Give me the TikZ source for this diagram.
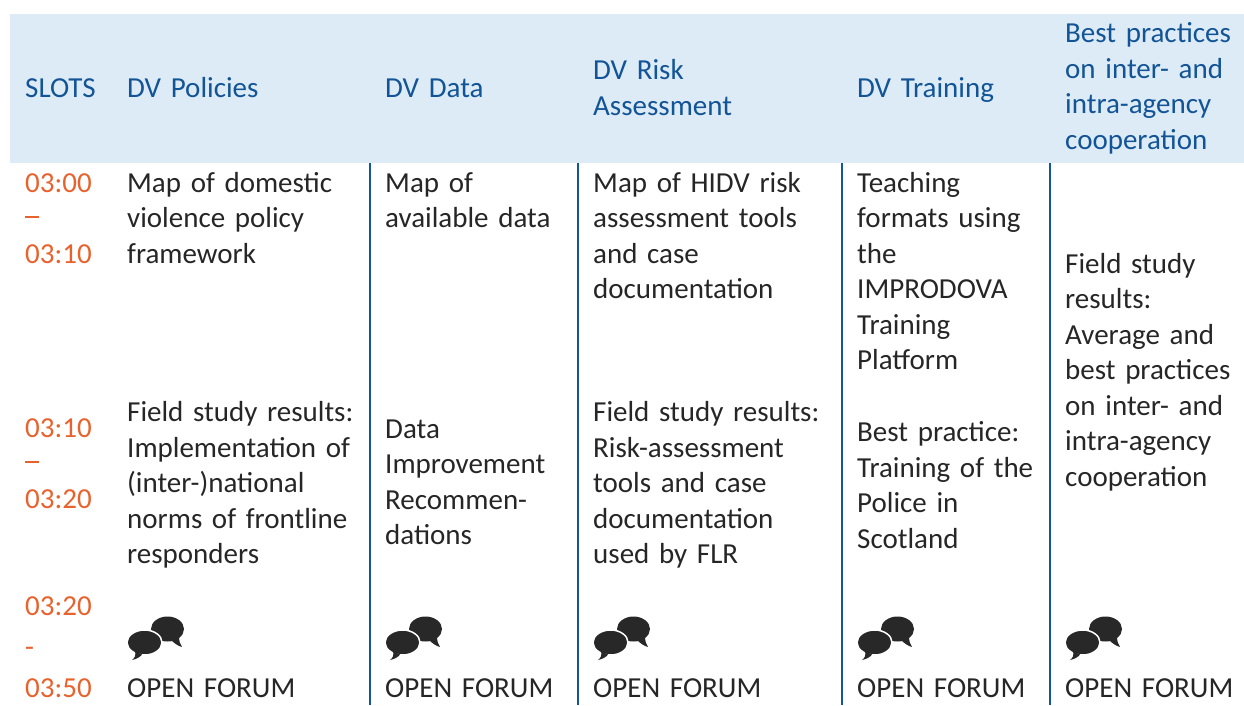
\documentclass[tikz,border=0pt]{standalone}
\usepackage{fontspec}
\setmainfont{Carlito}
\definecolor{hdrfill}{RGB}{221,235,247}
\definecolor{hdrblue}{RGB}{18,84,150}
\definecolor{slotorange}{RGB}{232,98,45}
\definecolor{bodytext}{RGB}{38,38,38}
\definecolor{rulecol}{RGB}{20,85,155}
\definecolor{iconcol}{RGB}{40,40,40}
\newcommand{\slotdash}{\rule[9.4pt]{14pt}{2.4pt}}
\tikzset{
  cell/.style={anchor=base west, inner sep=0pt, text width=#1, align=left,
    font=\fontsize{29}{35.5}\selectfont, text=bodytext},
  hdr/.style={cell=#1, text=hdrblue},
  slot/.style={cell=92pt, text=slotorange},
  colrule/.style={draw=rulecol, line width=2pt},
  forumicon/.pic={
    \fill[iconcol] (40.5,12) ellipse [x radius=16.5pt, y radius=12.5pt];
    \fill[iconcol] (44,23) .. controls (47,26) and (51,29) .. (55,30)
       .. controls (53,27) and (52,24) .. (52,19) -- cycle;
    \fill[iconcol, draw=white, line width=1.5pt] (17.5,25.5) ellipse [x radius=17.5pt, y radius=12.5pt];
    \fill[iconcol] (8,34) .. controls (9,38) and (8,41) .. (5,43)
       .. controls (10,42) and (13,40) .. (15,37.5) -- cycle;
  }
}
\begin{document}
\begin{tikzpicture}[x=1pt,y=-1pt]
\useasboundingbox (0,0) rectangle (1244,705);
% header band
\fill[hdrfill] (10,14) rectangle (1244,163);
% column rules
\foreach \cx in {370,578,842,1050}{
  \draw[colrule] (\cx,163) -- (\cx,705);
}
% header texts
\node[hdr=92pt]  (hslots) at (25,97)    {SLOTS};
\node[hdr=238pt] (h1)     at (127,97)   {DV Policies};
\node[hdr=188pt] (h2)     at (385,97)   {DV Data};
\node[hdr=242pt] (h3)     at (593,79.5) {DV Risk\\Assessment};
\node[hdr=188pt] (h4)     at (857,97)   {DV Training};
\node[hdr=178pt] (h5)     at (1065,42.7){Best practices\\on inter- and\\intra-agency\\cooperation};
% slots
\node[slot] (s1) at (25,192)   {03:00\\\slotdash\\03:10};
\node[slot] (s2) at (25,437)   {03:10\\\slotdash\\03:20};
\node[slot, font=\fontsize{29}{41}\selectfont] (s3) at (25,615) {03:20\\-\\03:50};
% row 1
\node[cell=238pt] (c11) at (127,192) {Map of domestic\\violence policy\\framework};
\node[cell=188pt] (c21) at (385,192) {Map of\\available data};
\node[cell=242pt] (c31) at (593,192) {Map of HIDV risk\\assessment tools\\and case\\documentation};
\node[cell=188pt] (c41) at (857,192) {Teaching\\formats using\\the\\IMPRODOVA\\Training\\Platform};
\node[cell=178pt] (c51) at (1065,273.3) {Field study\\results:\\Average and\\best practices\\on inter- and\\intra-agency\\cooperation};
% row 2
\node[cell=238pt] (c12) at (127,421.7) {Field study results:\\Implementation of\\(inter-)national\\norms of frontline\\responders};
\node[cell=188pt] (c22) at (385,438.3) {Data\\Improvement\\Recommen-\\dations};
\node[cell=242pt] (c32) at (593,421.7) {Field study results:\\Risk-assessment\\tools and case\\documentation\\used by FLR};
\node[cell=188pt] (c42) at (857,441.7) {Best practice:\\Training of the\\Police in\\Scotland};
% row 3: open forum
\foreach \fx/\nm in {127/f1,385/f2,593/f3,857/f4,1065/f5}{
  \pic (i\nm) at (\fx,617) {forumicon};
  \node[cell=178pt] (\nm) at (\fx,697.3) {OPEN FORUM};
}
\end{tikzpicture}
\end{document}
